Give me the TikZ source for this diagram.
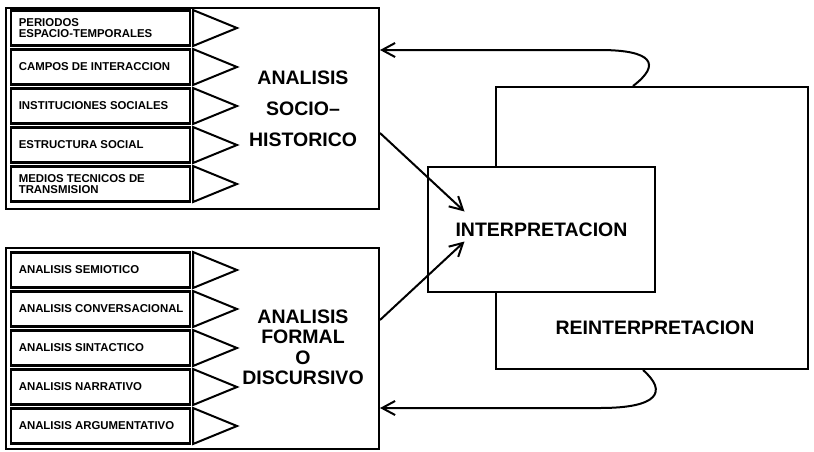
\documentclass[tikz,border=0pt]{standalone}
\usepackage{fontspec}
\setmainfont{Liberation Sans}
\usetikzlibrary{arrows.meta,calc}
\begin{document}
\begin{tikzpicture}[x=1pt,y=-1pt,
  bigbox/.style={draw,line width=2pt,minimum width=373pt,minimum height=201pt,inner sep=0pt},
  sbox/.style={draw,line width=2.8pt,minimum width=179pt,minimum height=35pt,inner sep=0pt},
  stext/.style={anchor=west,inner sep=0pt,align=left,font=\bfseries\fontsize{11.4}{11}\selectfont},
  bigtext/.style={inner sep=0pt,align=center,font=\bfseries\fontsize{19.5}{20.5}\selectfont},
  tri/.style={line width=2pt,line join=miter},
  arr/.style={line width=2pt,-{Straight Barb[length=13pt,width=14pt]}}]
\useasboundingbox (0,0) rectangle (814,451);
% upper and lower groups
\node[bigbox] (sh) at (192.5,108.5) {};
\node[bigbox] (fd) at (192.5,348.5) {};
\foreach \i/\t in {0/{PERIODOS\\ESPACIO-TEMPORALES},1/{CAMPOS DE INTERACCION},2/{INSTITUCIONES SOCIALES},3/{ESTRUCTURA SOCIAL},4/{MEDIOS TECNICOS DE\\TRANSMISION}}{
  \node[sbox] (a\i) at (100.5,{28+39*\i}) {};
  \node[stext] (at\i) at ($(a\i.west)+(9,0)$) {\t};
  \draw[tri] (193,{10+39*\i}) -- (237,{28+39*\i}) -- (193,{46+39*\i}) -- cycle;
}
\foreach \i/\t in {0/{ANALISIS SEMIOTICO},1/{ANALISIS CONVERSACIONAL},2/{ANALISIS SINTACTICO},3/{ANALISIS NARRATIVO},4/{ANALISIS ARGUMENTATIVO}}{
  \node[sbox] (b\i) at (100.5,{270+39*\i}) {};
  \node[stext] (bt\i) at ($(b\i.west)+(9,0)$) {\t};
  \draw[tri] (193,{252+39*\i}) -- (237,{270+39*\i}) -- (193,{288+39*\i}) -- cycle;
}
\node[bigtext,font=\bfseries\fontsize{19.5}{31}\selectfont] (shl) at (303,109) {ANALISIS\\SOCIO–\\HISTORICO};
\node[bigtext] (fdl) at (303,347.5) {ANALISIS\\FORMAL\\O\\DISCURSIVO};
% right side
\node[draw,line width=2pt,minimum width=312pt,minimum height=282pt,inner sep=0pt] (re) at (652,228) {};
\node[bigtext] (rel) at (655,328) {REINTERPRETACION};
\node[draw,line width=2pt,fill=white,minimum width=227pt,minimum height=125pt,inner sep=0pt,font=\bfseries\fontsize{19.5}{20.5}\selectfont] (ip) at (541.5,229.5) {INTERPRETACION};
% arrows
\draw[arr] ([yshift=-24.5pt]sh.east) -- ([xshift=-77pt,yshift=18pt]ip.center);
\draw[arr] ([yshift=28.5pt]fd.east) -- ([xshift=-77pt,yshift=-12pt]ip.center);
\draw[arr] ([xshift=-19pt]re.north) .. controls (662,64) and (652,50) .. (600,50) -- ([yshift=58.5pt]sh.east);
\draw[arr] ([xshift=-9pt]re.south) .. controls (668,392) and (658,408) .. (600,408) -- ([yshift=-59.5pt]fd.east);
\end{tikzpicture}
\end{document}
